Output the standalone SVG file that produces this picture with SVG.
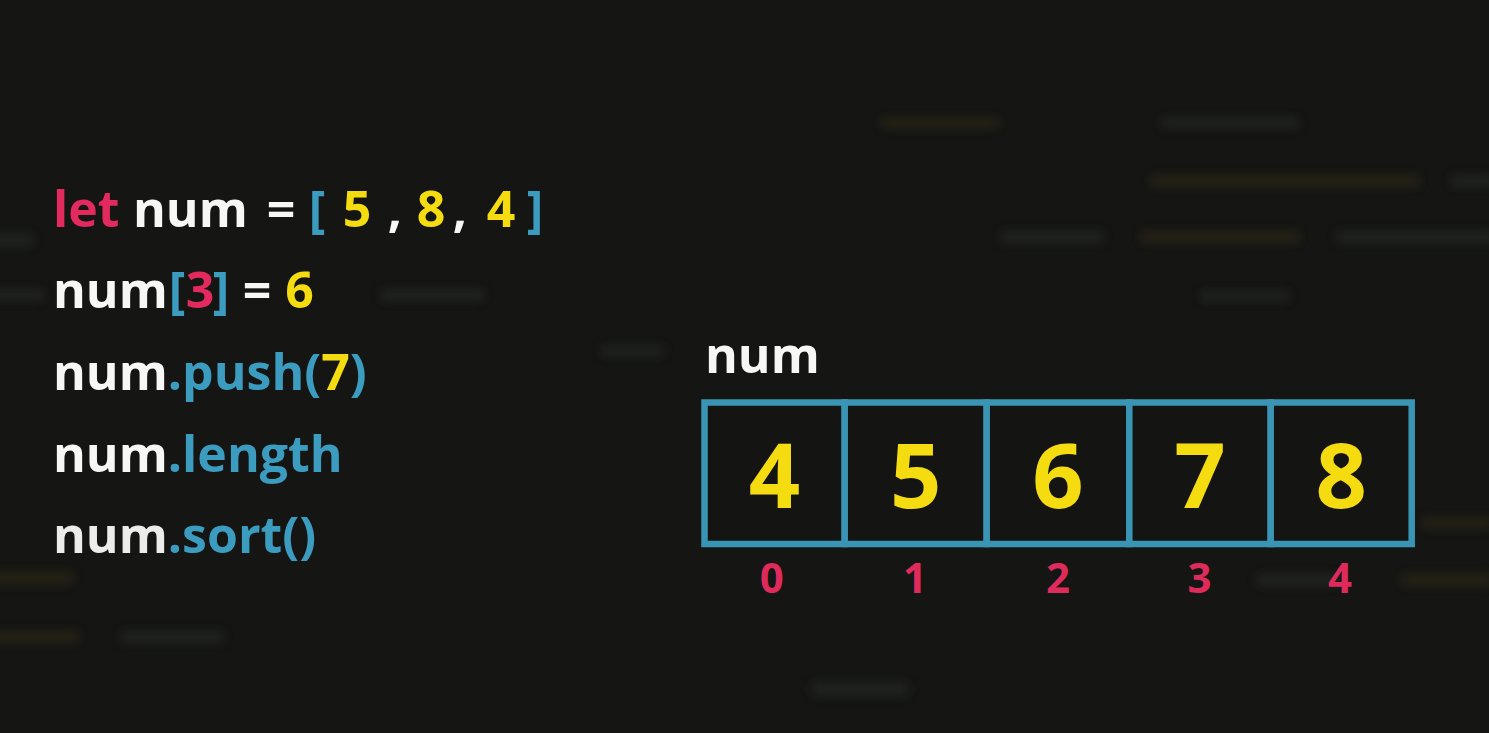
<svg xmlns="http://www.w3.org/2000/svg" width="1489" height="733" viewBox="0 0 1489 733">
<defs>
<filter id="blur" x="-20%" y="-300%" width="140%" height="700%"><feGaussianBlur stdDeviation="5"/></filter>
<style>
.t{font-family:"Open Sans","Noto Sans","Liberation Sans",sans-serif;font-weight:700}
.code{font-size:50px}
.w{fill:#f7f7f5}
.r{fill:#e22a5e}
.b{fill:#3c9cbf}
.y{fill:#f4dc10}
.m{text-anchor:middle}
.cell{fill:#141513;stroke:#3a95b4;stroke-width:6.5}
.val{font-size:90px;fill:#f4dc10;text-anchor:middle}
.idx{font-size:42px;fill:#df2a5c;text-anchor:middle}
.bg{filter:url(#blur)}
.g1{fill:#2c2d2a;opacity:.5}
.o1{fill:#3a2f18;opacity:.45}
</style>
</defs>
<rect width="1489" height="733" fill="#151614"/>
<g id="background">
<rect class="bg o1" x="1150" y="175" width="270" height="12" rx="6"/>
<rect class="bg g1" x="1450" y="175" width="45" height="12" rx="6"/>
<rect class="bg g1" x="1000" y="231" width="105" height="12" rx="6"/>
<rect class="bg o1" x="1140" y="231" width="160" height="12" rx="6"/>
<rect class="bg g1" x="1335" y="231" width="160" height="12" rx="6"/>
<rect class="bg g1" x="-10" y="234" width="45" height="12" rx="6"/>
<rect class="bg g1" x="380" y="289" width="105" height="12" rx="6"/>
<rect class="bg g1" x="-10" y="289" width="55" height="12" rx="6"/>
<rect class="bg g1" x="1200" y="291" width="90" height="10" rx="5"/>
<rect class="bg g1" x="600" y="346" width="65" height="10" rx="5"/>
<rect class="bg g1" x="1255" y="574" width="85" height="12" rx="6"/>
<rect class="bg o1" x="1400" y="574" width="95" height="12" rx="6"/>
<rect class="bg o1" x="-10" y="572" width="85" height="12" rx="6"/>
<rect class="bg o1" x="-10" y="631" width="90" height="12" rx="6"/>
<rect class="bg g1" x="120" y="631" width="105" height="12" rx="6"/>
<rect class="bg g1" x="810" y="682" width="100" height="14" rx="7"/>
<rect class="bg o1" x="1420" y="518" width="75" height="10" rx="5"/>
<rect class="bg g1" x="1160" y="118" width="140" height="10" rx="5"/>
<rect class="bg o1" x="880" y="118" width="120" height="10" rx="5"/>
</g>
<g id="code">
<text class="t code" y="227"><tspan class="r" x="53">let</tspan><tspan class="w" x="133">num</tspan></text>
<text class="t code m" y="227"><tspan class="w" x="281">=</tspan><tspan class="b" x="317">[</tspan><tspan class="y" x="357">5</tspan><tspan class="w" x="395">,</tspan><tspan class="y" x="431">8</tspan><tspan class="w" x="460">,</tspan><tspan class="y" x="501">4</tspan><tspan class="b" x="535">]</tspan></text>
<text class="t code" y="308"><tspan class="w" x="53">num</tspan></text>
<text class="t code m" y="308"><tspan class="b" x="177">[</tspan><tspan class="r" x="200">3</tspan><tspan class="b" x="221">]</tspan><tspan class="w" x="257">=</tspan><tspan class="y" x="299.5">6</tspan></text>
<text class="t code" x="53" y="390"><tspan class="w">num</tspan><tspan class="b">.push(</tspan><tspan class="y">7</tspan><tspan class="b">)</tspan></text>
<text class="t code" x="53" y="472"><tspan class="w">num</tspan><tspan class="b">.length</tspan></text>
<text class="t code" x="53" y="553"><tspan class="w" style="fill:#ececea">num</tspan><tspan class="b">.sort()</tspan></text>
</g>
<g id="array-label"><text class="t code w" x="705" y="373">num</text></g>
<g id="array">
<g id="cell0"><rect class="cell" x="704.5" y="402.5" width="140.2" height="141.5"/><text class="t val" x="774.6" y="508">4</text><text class="t idx" x="771.7" y="593">0</text></g>
<g id="cell1"><rect class="cell" x="844.7" y="402.5" width="142" height="141.5"/><text class="t val" x="915.7" y="508">5</text><text class="t idx" x="915" y="593">1</text></g>
<g id="cell2"><rect class="cell" x="986.7" y="402.5" width="142.6" height="141.5"/><text class="t val" x="1058" y="508">6</text><text class="t idx" x="1058" y="593">2</text></g>
<g id="cell3"><rect class="cell" x="1129.3" y="402.5" width="141.4" height="141.5"/><text class="t val" x="1200" y="508">7</text><text class="t idx" x="1199.5" y="593">3</text></g>
<g id="cell4"><rect class="cell" x="1270.7" y="402.5" width="141" height="141.5"/><text class="t val" x="1341.2" y="508">8</text><text class="t idx" x="1340" y="593">4</text></g>
</g>
</svg>
